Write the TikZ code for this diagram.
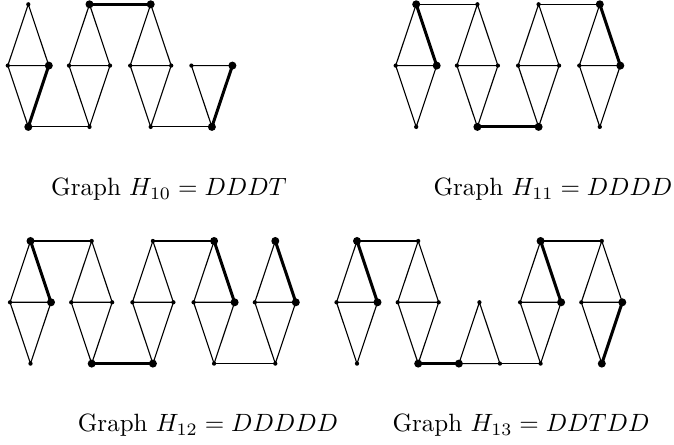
\documentclass[tikz,border=0pt]{standalone}
\usetikzlibrary{calc}

\begin{document}
\begin{tikzpicture}[
  x=0.4pt, y=-0.4pt,
  edge/.style  ={line width=0.45pt, draw=black},
  heavy/.style ={line width=1.2pt, draw=black},
  dot/.style   ={circle, fill=black, inner sep=0pt, minimum size=1.7pt},
  bigdot/.style={circle, fill=black, inner sep=0pt, minimum size=3.2pt},
  lbl/.style   ={anchor=base, inner sep=0pt},
]
\useasboundingbox (0,0) rectangle (674,445);

% ---------- diamonds (top, left, right, bottom) ----------
\foreach \n/\x/\y in {a1/28.3/4.3, a2/89.5/4.3, a3/150.7/4.3,
                      b1/416.2/4.3, b2/477.4/4.3, b3/538.6/4.3, b4/599.8/4.3,
                      c1/30.5/241, c2/91.7/241, c3/152.9/241, c4/214.1/241, c5/275.3/241,
                      d1/357/241, d2/418.2/241, d4/540.6/241, d5/601.8/241} {
  \coordinate (\n-t) at (\x,\y);
  \coordinate (\n-l) at (\x-20.5,\y+61.3);
  \coordinate (\n-r) at (\x+20.5,\y+61.3);
  \coordinate (\n-b) at (\x,\y+122.6);
  \draw[edge] (\n-t) -- (\n-l) -- (\n-b) -- (\n-r) -- cycle (\n-l) -- (\n-r);
}

% ---------- triangles ----------
\coordinate (a4-l) at (191.4,65.6);
\coordinate (a4-r) at (232.4,65.6);
\coordinate (a4-b) at (211.9,126.9);
\draw[edge] (a4-l) -- (a4-r) -- (a4-b) -- cycle;
\coordinate (d3-t) at (479.4,302.3);
\coordinate (d3-l) at (458.9,363.6);
\coordinate (d3-r) at (499.9,363.6);
\draw[edge] (d3-t) -- (d3-l) -- (d3-r) -- cycle;

% ---------- H10 = DDDT ----------
\draw[edge]  (a1-b) -- (a2-b);
\draw[edge]  (a3-b) -- (a4-b);
\draw[heavy] (a2-t) -- (a3-t);
\draw[heavy] (a1-r) -- (a1-b);
\draw[heavy] (a4-r) -- (a4-b);

% ---------- H11 = DDDD ----------
\draw[edge]  (b1-t) -- (b2-t);
\draw[edge]  (b3-t) -- (b4-t);
\draw[heavy] (b2-b) -- (b3-b);
\draw[heavy] (b1-t) -- (b1-r);
\draw[heavy] (b4-t) -- (b4-r);

% ---------- H12 = DDDDD ----------
\draw[edge]  (c1-t) -- (c2-t);
\draw[edge]  (c3-t) -- (c4-t);
\draw[edge]  (c4-b) -- (c5-b);
\draw[heavy] (c2-b) -- (c3-b);
\draw[heavy] (c1-t) -- (c1-r);
\draw[heavy] (c4-t) -- (c4-r);
\draw[heavy] (c5-t) -- (c5-r);

% ---------- H13 = DDTDD ----------
\draw[edge]  (d1-t) -- (d2-t);
\draw[edge]  (d4-t) -- (d5-t);
\draw[edge]  (d3-r) -- (d4-b);
\draw[heavy] (d2-b) -- (d3-l);
\draw[heavy] (d1-t) -- (d1-r);
\draw[heavy] (d4-t) -- (d4-r);
\draw[heavy] (d5-r) -- (d5-b);

% ---------- vertices ----------
\foreach \n in {a1,a2,a3,b1,b2,b3,b4,c1,c2,c3,c4,c5,d1,d2,d4,d5}
  \foreach \s in {t,l,r,b}
    \node[dot] (p-\n-\s) at (\n-\s) {};
\foreach \v in {a4-l,a4-r,a4-b,d3-t,d3-l,d3-r}
  \node[dot] (p-\v) at (\v) {};
\foreach \v in {a1-r,a1-b,a2-t,a3-t,a4-r,a4-b,
                b1-t,b1-r,b2-b,b3-b,b4-t,b4-r,
                c1-t,c1-r,c2-b,c3-b,c4-t,c4-r,c5-t,c5-r,
                d1-t,d1-r,d2-b,d3-l,d4-t,d4-r,d5-r,d5-b}
  \node[bigdot] (q-\v) at (\v) {};

% ---------- captions ----------
\node[lbl] (cap10) at (169,196) {Graph $H_{10} = DDDT$};
\node[lbl] (cap11) at (553,196) {Graph $H_{11} = DDDD$};
\node[lbl] (cap12) at (208,432) {Graph $H_{12} = DDDDD$};
\node[lbl] (cap13) at (521,432) {Graph $H_{13} = DDTDD$};

\end{tikzpicture}
\end{document}
